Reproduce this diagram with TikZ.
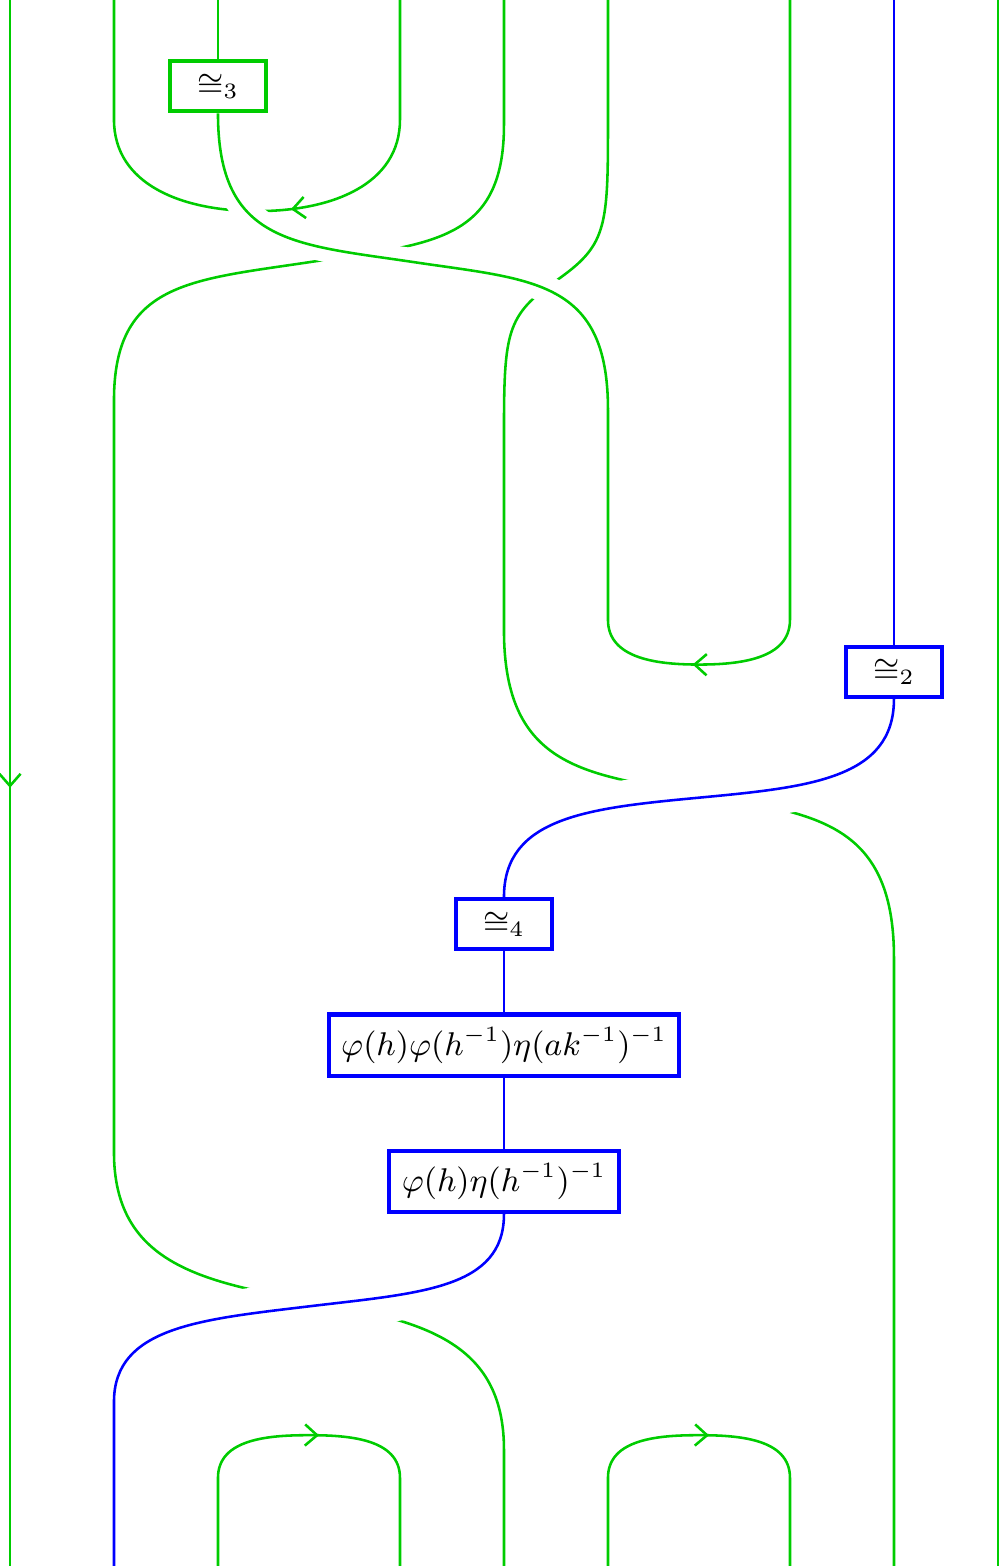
\documentclass[tikz,border=0pt]{standalone}
\usetikzlibrary{arrows.meta,decorations.markings,backgrounds}
\colorlet{strandgreen}{green!80!black}
\begin{document}
\begin{tikzpicture}[
    >={Straight Barb[length=3.3pt,width=5.8pt]},
    grn/.style={draw=strandgreen,line width=0.7pt},
    blu/.style={draw=blue,line width=0.7pt},
    overg/.style={preaction={draw=white,line width=7.5pt}},
    overb/.style={preaction={draw=white,line width=14pt}},
    midarrow/.style={postaction={decorate},decoration={markings,mark=at position #1 with {\arrow{>}}}},
    midarrow/.default=0.5,
    greenbox/.style={draw=strandgreen,line width=1.15pt,fill=white,inner sep=3.4pt,minimum width=0.92cm,minimum height=0.48cm,font=\fontsize{9.1}{11}\selectfont},
    bluebox/.style={greenbox,draw=blue}]
    \useasboundingbox (-0.096,-15.058) rectangle (9.519,0);
    % ends of the strands
    \foreach \n/\x in {0/0,1/1,2/2,3/3.75,4/4.75,5/5.75,6/7.5,7/8.5,8/9.5}{
        \coordinate (t\n) at (\x,0);
        \coordinate (b\n) at (\x,-15.06);
    }
    % turning points
    \coordinate (cu1) at (1,-1.15);
    \coordinate (cu3) at (3.75,-1.15);
    \coordinate (cub) at (2.375,-2.03);
    \coordinate (s3m) at (3.88,-2.52);
    \coordinate (s3e) at (5.75,-3.94);
    \coordinate (mc5) at (5.75,-5.96);
    \coordinate (mc6) at (7.5,-5.96);
    \coordinate (mcb) at (6.625,-6.39);
    \coordinate (a4) at (4.75,-1.2);
    \coordinate (am) at (2.885,-2.52);
    \coordinate (a1) at (1,-3.85);
    \coordinate (a1l) at (1,-11.08);
    \coordinate (aml) at (2.885,-12.51);
    \coordinate (a4l) at (4.75,-13.94);
    \coordinate (bb5) at (5.75,-1.25);
    \coordinate (bm) at (5.25,-2.70);
    \coordinate (bb4) at (4.75,-4.15);
    \coordinate (bb4l) at (4.75,-6.06);
    \coordinate (bml) at (6.625,-7.635);
    \coordinate (bb7) at (8.5,-9.21);
    \coordinate (um) at (6.625,-7.67);
    \coordinate (uml) at (2.885,-12.56);
    \coordinate (u1) at (1,-13.48);
    \coordinate (k2) at (2,-14.21);
    \coordinate (k3) at (3.75,-14.21);
    \coordinate (kt1) at (2.875,-13.8);
    \coordinate (k5) at (5.75,-14.21);
    \coordinate (k6) at (7.5,-14.21);
    \coordinate (kt2) at (6.625,-13.8);
    % boxes
    \node[greenbox] (iso3) at (2,-0.83) {$\cong_3$};
    \node[bluebox] (iso2) at (8.5,-6.46) {$\cong_2$};
    \node[bluebox] (iso4) at (4.75,-8.885) {$\cong_4$};
    \node[bluebox] (phi1) at (4.75,-10.05) {$\varphi(h)\varphi(h^{-1})\eta(ak^{-1})^{-1}$};
    \node[bluebox] (phi2) at (4.75,-11.36) {$\varphi(h)\eta(h^{-1})^{-1}$};
    \begin{scope}[on background layer]
        \draw[grn,midarrow=0.503] (t0) -- (b0);
        \draw[grn] (t8) -- (b8);
        \draw[grn,midarrow=0.445] (t3) -- (cu3) .. controls +(0,-0.625) and +(0.72,0) .. (cub) .. controls +(-0.72,0) and +(0,-0.625) .. (cu1) -- (t1);
        \draw[grn] (t4) -- (a4) .. controls +(0,-1.135) and +(1.154,0.174) .. (am) .. controls +(-1.154,-0.174) and +(0,1.135) .. (a1) -- (a1l) .. controls +(0,-1.058) and +(-1.058,0.186) .. (aml) .. controls +(1.058,-0.186) and +(0,1.058) .. (a4l) -- (b4);
        \draw[grn] (t5) -- (bb5) .. controls +(0,-0.96) and +(0.473,0.331) .. (bm) .. controls +(-0.473,-0.331) and +(0,0.96) .. (bb4) -- (bb4l) .. controls +(0,-1.346) and +(-1.058,0.19) .. (bml) .. controls +(1.058,-0.19) and +(0,1.346) .. (bb7) -- (b7);
        \draw[grn,midarrow=0.525] (b2) -- (k2) to[out=90,in=180] (kt1) to[out=0,in=90] (k3) -- (b3);
        \draw[grn,midarrow=0.525] (b5) -- (k5) to[out=90,in=180] (kt2) to[out=0,in=90] (k6) -- (b6);
        \draw[grn] (t2) -- (iso3);
        \draw[grn,overg] (iso3.south) .. controls +(0,-1.25) and +(-1.154,0.172) .. (s3m) .. controls +(1.154,-0.172) and +(0,1.25) .. (s3e);
        \draw[grn,midarrow=0.700] (t6) -- (mc6) to[out=-90,in=0] (mcb) to[out=180,in=-90] (mc5) -- (s3e);
        \draw[blu] (t7) -- (iso2);
        \draw[blu,overb] (iso2.south) .. controls +(0,-0.77) and +(1.058,0.10) .. (um) .. controls +(-1.058,-0.10) and +(0,0.77) .. (iso4.north);
        \draw[blu] (iso4) -- (phi1);
        \draw[blu] (phi1) -- (phi2);
        \draw[blu,overb] (phi2.south) .. controls +(0,-0.72) and +(1.058,0.127) .. (uml) .. controls +(-1.058,-0.127) and +(0,0.72) .. (u1) -- (b1);
    \end{scope}
\end{tikzpicture}
\end{document}
